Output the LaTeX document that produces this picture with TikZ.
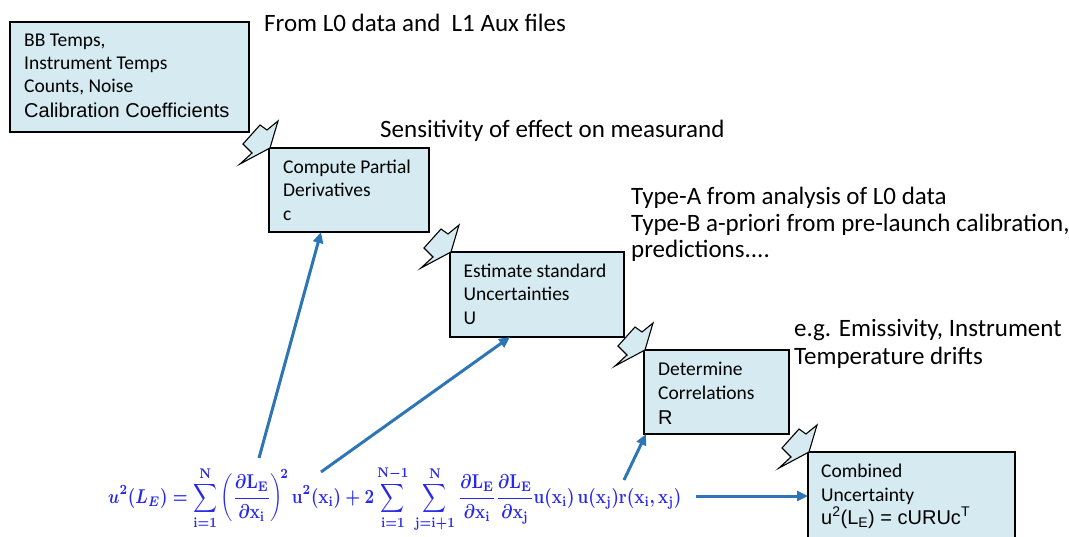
\documentclass[tikz,border=0pt]{standalone}
\usepackage[no-math]{fontspec}
\usepackage{graphicx}
\setmainfont{Carlito}
\newfontfamily\arialf{Liberation Sans}
\usetikzlibrary{arrows.meta}

\definecolor{boxfill}{RGB}{213,235,241}
\definecolor{linkblue}{RGB}{46,117,182}
\definecolor{eqblue}{RGB}{40,40,235}

\tikzset{
  stepbox/.style={draw=black, line width=1.3pt, fill=boxfill, inner sep=0pt,
    outer sep=0pt, anchor=north west},
  % multi-line texts are anchored at the baseline of their last line
  boxtext/.style={anchor=base west, inner sep=0pt, align=left,
    font=\fontsize{19.5}{23.5}\selectfont},
  arialtext/.style={anchor=base west, inner sep=0pt,
    font=\arialf\fontsize{20}{24}\selectfont},
  note/.style={anchor=base west, inner sep=0pt, font=\fontsize{25}{29}\selectfont},
  boltshape/.style={draw=black, line width=1.1pt, fill=boxfill, line join=miter},
  link/.style={draw=linkblue, line width=3pt, -{Triangle[length=11pt,width=10pt]}},
}

% jagged connector ending at the top-left corner of a box
\newcommand\boltinto[1]{%
  \draw[boltshape] ([shift={(9,-27)}]#1) -- ([shift={(1,0)}]#1)
    -- ([shift={(-29,16)}]#1) -- ([shift={(-17,5)}]#1)
    -- ([shift={(-26,-4)}]#1) -- ([shift={(-9,-23)}]#1)
    -- ([shift={(-2,-18)}]#1) -- cycle;}

\begin{document}
\begin{tikzpicture}[x=1pt, y=-1pt]
\useasboundingbox (0,0) rectangle (1069,536);
\begin{scope}
\clip (0,0) rectangle (1069,536);

% process boxes
\node[stepbox, minimum width=239pt, minimum height=110pt] (b1) at (10,22) {};
\node[stepbox, minimum width=160pt, minimum height=84pt] (b2) at (269,148) {};
\node[stepbox, minimum width=174pt, minimum height=85pt] (b3) at (450,252) {};
\node[stepbox, minimum width=145pt, minimum height=84pt] (b4) at (644,350) {};
\node[stepbox, minimum width=207pt, minimum height=110pt] (b5) at (808,452) {};

% jagged connectors between successive boxes
\boltinto{b2.north west}
\boltinto{b3.north west}
\boltinto{b4.north west}
\boltinto{b5.north west}

% box contents
\node[boxtext, font=\fontsize{19.5}{22.7}\selectfont] (t1)
  at ([shift={(14,70)}]b1.north west) {BB Temps,\\Instrument Temps\\Counts, Noise};
\node[arialtext] (t1b) at ([shift={(14,95)}]b1.north west) {Calibration Coefficients};
\node[boxtext] (t2) at ([shift={(14,72)}]b2.north west)
  {Compute Partial\\Derivatives\\c};
\node[boxtext] (t3) at ([shift={(13.5,72)}]b3.north west)
  {Estimate standard\\Uncertainties\\U};
\node[boxtext] (t4) at ([shift={(14,49)}]b4.north west)
  {Determine\\Correlations};
\node[arialtext] (t4b) at ([shift={(14,74)}]b4.north west) {R};
\node[boxtext] (t5) at ([shift={(13,49)}]b5.north west)
  {Combined\\Uncertainty};
\node[arialtext] (t5b) at ([shift={(13,72)}]b5.north west)
  {u\textsuperscript{2}(L\textsubscript{E}) = cURUc\textsuperscript{T}};
\end{scope}

% side notes
\node[note] (n1) at (264,31) {From L0 data and~ L1 Aux files};
\node[note] (n2) at (380,137) {Sensitivity of effect on measurand};
\node[note] (n3) at (631,204) {Type-A from analysis of L0 data};
\node[note] (n4) at (631,231) {Type-B a-priori from pre-launch calibration,};
\node[note] (n5) at (631,257) {predictions....};
\node[note] (n6) at (794,336) {e.g. Emissivity, Instrument};
\node[note] (n7) at (794,364) {Temperature drifts};

% combined uncertainty equation
\node[anchor=base west, inner sep=0pt, text=eqblue] (eq) at (108,503)
  {\resizebox*{573pt}{66pt}{\boldmath$\displaystyle
   u^2(L_E)=\sum_{\mathrm{i}=1}^{\mathrm{N}}
   \left(\frac{\partial\mathrm{L_E}}{\partial\mathrm{x_i}}\right)^{\!2}
   \mathrm{u^2(x_i)}+2\sum_{\mathrm{i}=1}^{\mathrm{N}-1}\,
   \sum_{\mathrm{j}=\mathrm{i}+1}^{\mathrm{N}}
   \frac{\partial\mathrm{L_E}}{\partial\mathrm{x_i}}
   \frac{\partial\mathrm{L_E}}{\partial\mathrm{x_j}}
   \mathrm{u(x_i)\,u(x_j)r(x_i,x_j)}$}};

% links from equation terms to the boxes
\coordinate (s1) at (259,458);
\coordinate (s2) at (321,472);
\coordinate (s3) at (624,480);
\coordinate (s4) at (696,496);
\draw[link] (s1) -- ([xshift=52pt]b2.south west);
\draw[link] (s2) -- ([xshift=60pt]b3.south west);
\draw[link] (s3) -- ([xshift=2pt]b4.south west);
\draw[link] (s4) -- ([yshift=-44pt]b5.north west);
\end{tikzpicture}
\end{document}
